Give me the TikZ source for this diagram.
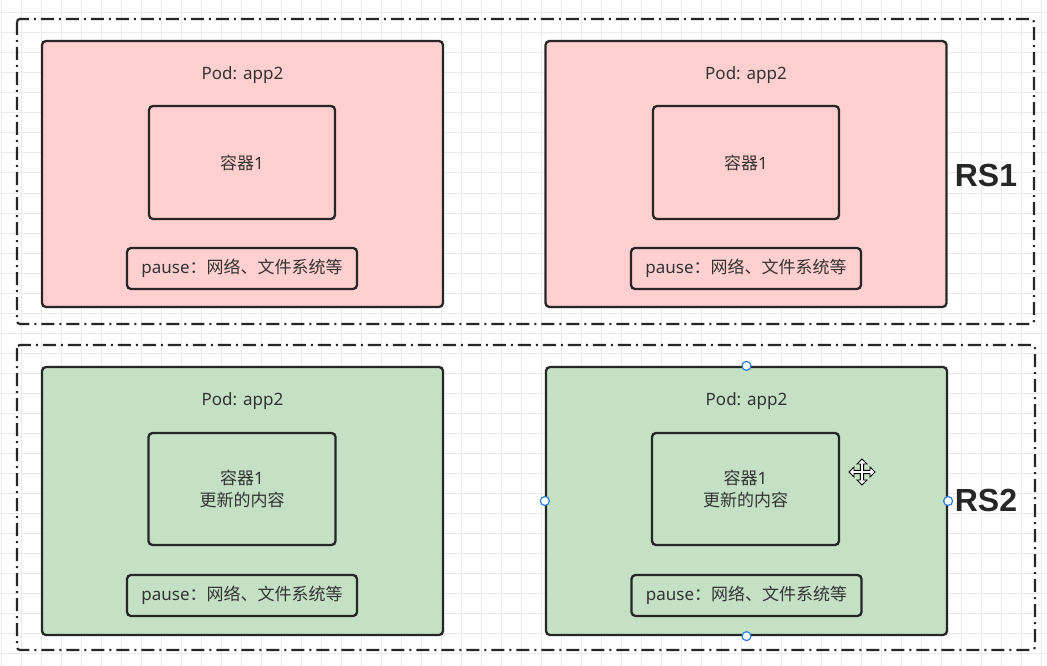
\documentclass[tikz,border=0pt]{standalone}
\usepackage{fontspec}
\setmainfont{Noto Sans}
\newfontfamily\cjk{Noto Sans CJK SC}
\newfontfamily\rsfont{Liberation Sans}
\definecolor{gridc}{HTML}{EBEBEB}
\definecolor{pinkf}{HTML}{FFD0CF}
\definecolor{greenf}{HTML}{C4E1C6}
\definecolor{strokec}{HTML}{262626}
\definecolor{textc}{HTML}{333333}
\definecolor{handlec}{HTML}{2F7FE0}
\tikzset{
  gridline/.style={draw=gridc, line width=1pt},
  rsbox/.style={draw=strokec, line width=2.2pt, rounded corners=3pt, dash pattern=on 13pt off 5pt on 2pt off 5pt},
  podbox/.style={draw=strokec, line width=2.3pt, rounded corners=4pt, rectangle, inner sep=0pt},
  innerbox/.style={draw=strokec, line width=2.3pt, rounded corners=4pt, rectangle, inner sep=0pt, align=center, text=textc, font=\fontsize{17}{22}\selectfont},
  lbl/.style={text=textc, inner sep=0pt, font=\fontsize{17}{22}\selectfont},
  rslbl/.style={text=strokec, inner sep=0pt, font=\fontsize{32}{36}\selectfont\rsfont\bfseries},
  handle/.style={circle, draw=handlec, fill=white, line width=1.2pt, minimum size=9pt, inner sep=0pt},
}
\begin{document}
\begin{tikzpicture}[x=1pt,y=-1pt]
\useasboundingbox (0,0) rectangle (1047,666);
\fill[white] (0,0) rectangle (1047,666);
% grid
\foreach \gx in {1,21,...,1041} \draw[gridline] (\gx,0) -- (\gx,666);
\foreach \gy in {13,33,...,653} \draw[gridline] (0,\gy) -- (1047,\gy);
% replica set frames
\draw[rsbox] (17,19) rectangle (1034,324);
\draw[rsbox] (17,345) rectangle (1035,650);
% pods
\node[podbox, fill=pinkf, minimum width=401pt, minimum height=266pt] (podA) at (242.5,174) {};
\node[podbox, fill=pinkf, minimum width=401pt, minimum height=266pt] (podB) at (746,174) {};
\node[podbox, fill=greenf, minimum width=401pt, minimum height=268pt] (podC) at (242.5,501) {};
\node[podbox, fill=greenf, minimum width=401pt, minimum height=268pt] (podD) at (746.5,501) {};
% titles
\node[lbl] (tA) at (242.5,75) {Pod: app2};
\node[lbl] (tB) at (746,75) {Pod: app2};
\node[lbl] (tC) at (242.5,401) {Pod: app2};
\node[lbl] (tD) at (746.5,401) {Pod: app2};
% containers
\node[innerbox, minimum width=186pt, minimum height=113pt] (cA) at (242,162.5) {{\cjk 容器}1};
\node[innerbox, minimum width=186pt, minimum height=113pt] (cB) at (746,162.5) {{\cjk 容器}1};
\node[innerbox, minimum width=187pt, minimum height=112pt] (cC) at (242,489) {{\cjk 容器}1\\{\cjk 更新的内容}};
\node[innerbox, minimum width=187pt, minimum height=112pt] (cD) at (745.5,489) {{\cjk 容器}1\\{\cjk 更新的内容}};
% pause boxes
\node[innerbox, minimum width=230pt, minimum height=41pt] (pA) at (242,268.5) {pause{\cjk ：网络、文件系统等}};
\node[innerbox, minimum width=230pt, minimum height=41pt] (pB) at (746,268.5) {pause{\cjk ：网络、文件系统等}};
\node[innerbox, minimum width=230pt, minimum height=41pt] (pC) at (242,595.5) {pause{\cjk ：网络、文件系统等}};
\node[innerbox, minimum width=230pt, minimum height=41pt] (pD) at (746.5,595.5) {pause{\cjk ：网络、文件系统等}};
% RS labels
\node[rslbl] (rs1) at (986,175) {RS1};
\node[rslbl] (rs2) at (986,500) {RS2};
% selection handles
\node[handle] (h1) at (podD.north) {};
\node[handle] (h2) at (podD.south) {};
\node[handle] (h3) at (podD.west) {};
\node[handle] (h4) at (podD.east) {};
% move cursor
\begin{scope}[shift={(862,472)}]
\draw[fill=white, draw=black, line width=0.9pt, line join=miter]
  (0,-13) -- (5,-8) -- (1.6,-8) -- (1.6,-1.6) -- (8,-1.6) -- (8,-5) -- (13,0) -- (8,5) -- (8,1.6) -- (1.6,1.6) -- (1.6,8) -- (5,8) -- (0,13) -- (-5,8) -- (-1.6,8) -- (-1.6,1.6) -- (-8,1.6) -- (-8,5) -- (-13,0) -- (-8,-5) -- (-8,-1.6) -- (-1.6,-1.6) -- (-1.6,-8) -- (-5,-8) -- cycle;
\end{scope}
\end{tikzpicture}
\end{document}
